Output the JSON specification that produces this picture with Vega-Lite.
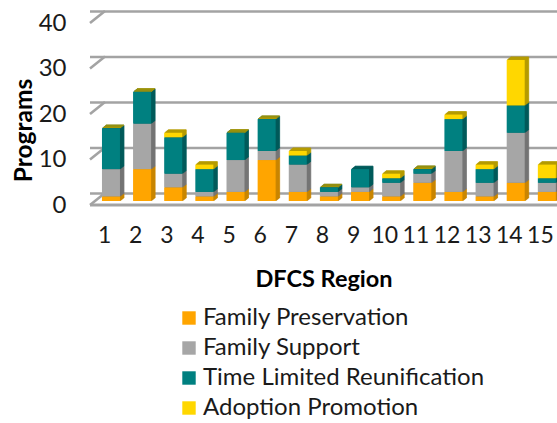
{"$schema":"https://vega.github.io/schema/vega-lite/v6.json","autosize":"none","padding":{"left":90,"top":23,"right":0,"bottom":218},"width":467,"height":182,"background":"white","config":{"view":{"stroke":null},"font":"Lato"},"datasets":{"bars":[
{"r":"1","p":"Family Preservation","k":1,"v":1},{"r":"1","p":"Family Support","k":2,"v":6},{"r":"1","p":"Time Limited Reunification","k":3,"v":9},{"r":"1","p":"Adoption Promotion","k":4,"v":0},
{"r":"2","p":"Family Preservation","k":1,"v":7},{"r":"2","p":"Family Support","k":2,"v":10},{"r":"2","p":"Time Limited Reunification","k":3,"v":7},{"r":"2","p":"Adoption Promotion","k":4,"v":0},
{"r":"3","p":"Family Preservation","k":1,"v":3},{"r":"3","p":"Family Support","k":2,"v":3},{"r":"3","p":"Time Limited Reunification","k":3,"v":8},{"r":"3","p":"Adoption Promotion","k":4,"v":1},
{"r":"4","p":"Family Preservation","k":1,"v":1},{"r":"4","p":"Family Support","k":2,"v":1},{"r":"4","p":"Time Limited Reunification","k":3,"v":5},{"r":"4","p":"Adoption Promotion","k":4,"v":1},
{"r":"5","p":"Family Preservation","k":1,"v":2},{"r":"5","p":"Family Support","k":2,"v":7},{"r":"5","p":"Time Limited Reunification","k":3,"v":6},{"r":"5","p":"Adoption Promotion","k":4,"v":0},
{"r":"6","p":"Family Preservation","k":1,"v":9},{"r":"6","p":"Family Support","k":2,"v":2},{"r":"6","p":"Time Limited Reunification","k":3,"v":7},{"r":"6","p":"Adoption Promotion","k":4,"v":0},
{"r":"7","p":"Family Preservation","k":1,"v":2},{"r":"7","p":"Family Support","k":2,"v":6},{"r":"7","p":"Time Limited Reunification","k":3,"v":2},{"r":"7","p":"Adoption Promotion","k":4,"v":1},
{"r":"8","p":"Family Preservation","k":1,"v":1},{"r":"8","p":"Family Support","k":2,"v":1},{"r":"8","p":"Time Limited Reunification","k":3,"v":1},{"r":"8","p":"Adoption Promotion","k":4,"v":0},
{"r":"9","p":"Family Preservation","k":1,"v":2},{"r":"9","p":"Family Support","k":2,"v":1},{"r":"9","p":"Time Limited Reunification","k":3,"v":4},
{"r":"10","p":"Family Preservation","k":1,"v":1},{"r":"10","p":"Family Support","k":2,"v":3},{"r":"10","p":"Time Limited Reunification","k":3,"v":1},{"r":"10","p":"Adoption Promotion","k":4,"v":1},
{"r":"11","p":"Family Preservation","k":1,"v":4},{"r":"11","p":"Family Support","k":2,"v":2},{"r":"11","p":"Time Limited Reunification","k":3,"v":1},{"r":"11","p":"Adoption Promotion","k":4,"v":0},
{"r":"12","p":"Family Preservation","k":1,"v":2},{"r":"12","p":"Family Support","k":2,"v":9},{"r":"12","p":"Time Limited Reunification","k":3,"v":7},{"r":"12","p":"Adoption Promotion","k":4,"v":1},
{"r":"13","p":"Family Preservation","k":1,"v":1},{"r":"13","p":"Family Support","k":2,"v":3},{"r":"13","p":"Time Limited Reunification","k":3,"v":3},{"r":"13","p":"Adoption Promotion","k":4,"v":1},
{"r":"14","p":"Family Preservation","k":1,"v":4},{"r":"14","p":"Family Support","k":2,"v":11},{"r":"14","p":"Time Limited Reunification","k":3,"v":6},{"r":"14","p":"Adoption Promotion","k":4,"v":10},
{"r":"15","p":"Family Preservation","k":1,"v":2},{"r":"15","p":"Family Support","k":2,"v":2},{"r":"15","p":"Time Limited Reunification","k":3,"v":1},{"r":"15","p":"Adoption Promotion","k":4,"v":3}
],"grid":[{"g":0},{"g":10},{"g":20},{"g":30},{"g":40}],"diag":[
{"g":0,"d":0,"y":0},{"g":0,"d":1,"y":2.65},{"g":10,"d":0,"y":10},{"g":10,"d":1,"y":12.65},{"g":20,"d":0,"y":20},{"g":20,"d":1,"y":22.65},{"g":30,"d":0,"y":30},{"g":30,"d":1,"y":32.65},{"g":40,"d":0,"y":40},{"g":40,"d":1,"y":42.65}]},
"resolve":{"scale":{"x":"independent","color":"independent","stroke":"independent"}},
"layer":[
{"data":{"name":"grid"},"mark":{"type":"rule","color":"#a3a3a3","strokeWidth":2.5,"xOffset":15,"yOffset":-11.5},"encoding":{"y":{"field":"g","type":"quantitative","scale":{"domain":[0,40]},"axis":{"values":[0,10,20,30,40],"grid":false,"domain":false,"ticks":false,"labelFontSize":24,"labelColor":"#1a1a1a","labelPadding":24,"labelFont":"Lato","title":"Programs","titleFontSize":24.5,"titleFontWeight":"bold","titleColor":"#000000","titleAnchor":"middle","titleAngle":-90,"titleX":-54,"titleY":107}}}},
{"data":{"name":"grid"},"transform":[{"filter":"datum.g==0"}],"mark":{"type":"rule","color":"#a3a3a3","strokeWidth":3},"encoding":{"y":{"field":"g","type":"quantitative"}}},
{"data":{"name":"diag"},"mark":{"type":"line","color":"#a3a3a3","strokeWidth":2.5},"encoding":{"x":{"field":"d","type":"quantitative","axis":null,"scale":{"domain":[0,1],"range":[0,15]}},"y":{"field":"y","type":"quantitative"},"detail":{"field":"g"}}},
{"data":{"name":"bars"},"layer":[
{"mark":{"type":"bar","size":18,"xOffset":9.4,"yOffset":-7,"strokeWidth":0.8}},
{"mark":{"type":"bar","size":18,"xOffset":8.4,"yOffset":-6.2,"strokeWidth":0.8}},
{"mark":{"type":"bar","size":18,"xOffset":7.4,"yOffset":-5.4,"strokeWidth":0.8}},
{"mark":{"type":"bar","size":18,"xOffset":6.4,"yOffset":-4.6,"strokeWidth":0.8}}
],"encoding":{"x":{"field":"r","type":"nominal","sort":null,"axis":null},"y":{"field":"v","type":"quantitative","stack":"zero"},"order":{"field":"k","type":"quantitative"},"color":{"field":"p","type":"nominal","legend":null,"scale":{"domain":["Family Preservation","Family Support","Time Limited Reunification","Adoption Promotion"],"range":["#c98600","#757575","#005b5b","#b59c00"]}},"stroke":{"field":"p","type":"nominal","legend":null,"scale":{"domain":["Family Preservation","Family Support","Time Limited Reunification","Adoption Promotion"],"range":["#c98600","#757575","#005b5b","#b59c00"]}}}},
{"data":{"name":"bars"},"mark":{"type":"bar","size":18,"xOffset":5.4,"yOffset":-4},"encoding":{"x":{"field":"r","type":"nominal","sort":null,"axis":{"title":"DFCS Region","labelAngle":0,"labelFontSize":23,"labelColor":"#1a1a1a","labelOffset":-1,"labelPadding":19,"domain":false,"ticks":false,"titleFontSize":23.5,"titleFontWeight":"bold","titleColor":"#000000","titlePadding":20}},"y":{"field":"v","type":"quantitative","stack":"zero"},"order":{"field":"k","type":"quantitative"},"color":{"field":"p","type":"nominal","sort":null,"scale":{"domain":["Family Preservation","Family Support","Time Limited Reunification","Adoption Promotion"],"range":["#ffa500","#a6a6a6","#008080","#ffd700"]},"legend":{"orient":"none","legendX":87,"legendY":283,"title":null,"symbolType":"square","symbolSize":180,"labelFontSize":24,"labelColor":"#1a1a1a","rowPadding":6,"labelOffset":2,"symbolStrokeWidth":0,"symbolOpacity":1,"labelLimit":400}}}}
]}
